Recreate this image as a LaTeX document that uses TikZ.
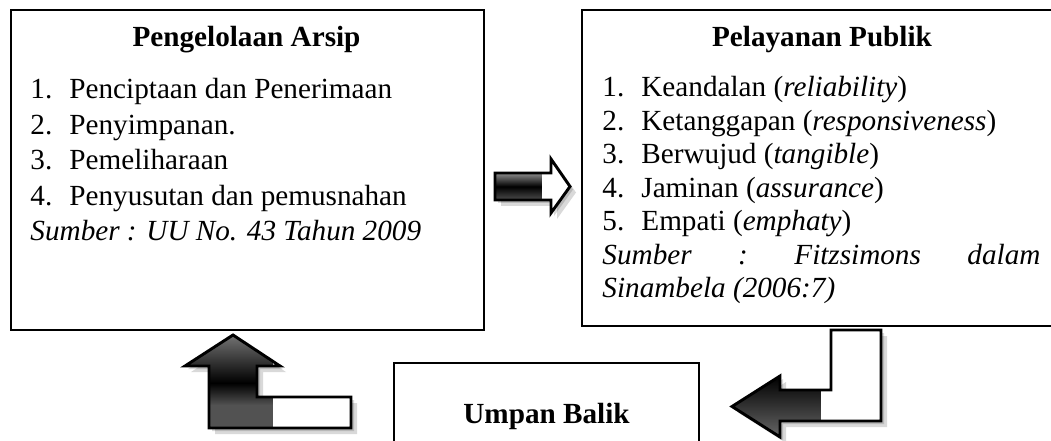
\documentclass[tikz,border=0pt]{standalone}
\usepackage{fontspec}
\setmainfont{Liberation Serif}

\newcommand\nomor[1]{\makebox[16pt][l]{#1.}}
\newcommand\panahTengah{(495,173) -- (551,173) -- (551,159) -- (570,186.5) -- (551,213) -- (551,200) -- (495,200) -- cycle}
\newcommand\panahKiri{(233,335) -- (280,366) -- (257,366) -- (257,397) -- (351,397) -- (351,428) -- (209,428) -- (209,366) -- (185,366) -- cycle}
\newcommand\panahKanan{(732,406.5) -- (780,376) -- (780,390) -- (831,390) -- (831,330) -- (881,330) -- (881,421) -- (780,421) -- (780,437) -- cycle}

\begin{document}
\begin{tikzpicture}[x=0.411pt,y=-0.411pt,
	every node/.style={font=\fontsize{12}{14}\selectfont},
	kotak/.style={draw,line width=0.8pt,anchor=north west,inner sep=0pt,fill=white},
	judul/.style={font=\fontsize{12}{14}\selectfont\bfseries,anchor=base},
	baris/.style={anchor=base west,inner sep=0pt},
	bayang/.style={fill=black,opacity=0.15},
	garis/.style={draw,line width=1.2pt,line join=miter}]
	      	\useasboundingbox (0,0) rectangle (1051,441);
	      	\clip (0,0) rectangle (1051,441);
	      	\fill[white] (0,0) rectangle (1051,441);
	
	      	% kotak
	      	\node[kotak,minimum width=194.4pt,minimum height=131.5pt] (arsip) at (10,9) {};
	      	\node[kotak,minimum width=198.1pt,minimum height=129.9pt] (publik) at (581,9) {};
	      	\node[kotak,minimum width=125.4pt,minimum height=43.8pt,font=\fontsize{12}{14}\selectfont\bfseries] (balik) at (393,362) {Umpan Balik};
	
	      	\node[judul] (arsip_judul) at (246.5,47) {Pengelolaan Arsip};
	      	\node[judul] (publik_judul) at (822,47) {Pelayanan Publik};
	
	      	\foreach \teks [count=\i] in {{\nomor{1}Penciptaan dan Penerimaan},{\nomor{2}Penyimpanan.},{\nomor{3}Pemeliharaan},{\nomor{4}Penyusutan dan pemusnahan},{\textit{Sumber : UU No. 43 Tahun 2009}}}
	      		\node[baris] (arsip_\i) at (30,{99+35.5*(\i-1)}) {\teks};
	
	      	\foreach \teks [count=\i] in {{\nomor{1}Keandalan (\textit{reliability})},{\nomor{2}Ketanggapan (\textit{responsiveness})},{\nomor{3}Berwujud (\textit{tangible})},{\nomor{4}Jaminan (\textit{assurance})},{\nomor{5}Empati (\textit{emphaty})},{\makebox[180pt]{\textit{Sumber\hfill:\hfill Fitzsimons\hfill dalam}}},{\textit{Sinambela (2006:7)}}}
	      		\node[baris] (publik_\i) at (602,{97+33.4*(\i-1)}) {\teks};
	
	      	% panah tengah
	      	\path[bayang,shift={(3,3)}] \panahTengah;
	      	\path[bayang,shift={(6,6)}] \panahTengah;
	      	\path[fill=white] \panahTengah;
	      	\begin{scope}
	      		\clip \panahTengah;
	      		\foreach \k in {173,...,199} {
	      			\pgfmathsetmacro\p{\k<186.5 ? 45+55*(\k-173)/13.5 : 100-30*(\k-186.5)/13.5}
	      			\fill[black!\p] (495,\k) rectangle (542,\k+1.3);
	      		}
	      	\end{scope}
	      	\draw[garis] \panahTengah;
	
	      	% panah kiri bawah
	      	\path[bayang,shift={(3,3)}] \panahKiri;
	      	\path[bayang,shift={(6,6)}] \panahKiri;
	      	\path[fill=white] \panahKiri;
	      	\begin{scope}
	      		\clip \panahKiri;
	      		\foreach \k in {335,...,427} {
	      			\pgfmathsetmacro\p{\k<383 ? 55+45*(\k-335)/48 : (\k<405 ? 100-32*(\k-383)/22 : 68)}
	      			\fill[black!\p] (185,\k) rectangle (273,\k+1.3);
	      		}
	      	\end{scope}
	      	\draw[garis] \panahKiri;
	
	      	% panah kanan bawah
	      	\path[bayang,shift={(3,3)}] \panahKanan;
	      	\path[bayang,shift={(6,6)}] \panahKanan;
	      	\path[fill=white] \panahKanan;
	      	\begin{scope}
	      		\clip \panahKanan;
	      		\foreach \k in {376,...,436} {
	      			\pgfmathsetmacro\p{100-40*(\k-376)/61}
	      			\fill[black!\p] (732,\k) rectangle (821,\k+1.3);
	      		}
	      	\end{scope}
	      	\draw[garis] \panahKanan;
\end{tikzpicture}
\end{document}
